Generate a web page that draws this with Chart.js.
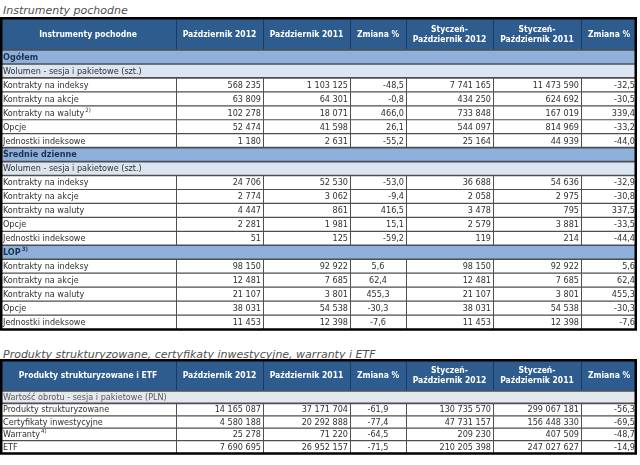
<!DOCTYPE html>
<html lang="pl">
<head>
<meta charset="utf-8">
<script src="https://cdn.jsdelivr.net/npm/chart.js@4.4.1/dist/chart.umd.min.js"></script>
<style>
  html, body { margin: 0; padding: 0; background: #fff; }
  body { width: 640px; height: 465px; position: relative; overflow: hidden; }
  .title { position: absolute; left: 3px; font: italic 11px "DejaVu Sans", sans-serif; color: #505050; white-space: nowrap; }
  .box { position: absolute; left: 0; width: 640px; }
</style>
</head>
<body>
<div class="title" style="top:4px">Instrumenty pochodne</div>
<div class="box" style="top:17px;height:316px"><canvas id="derivatives"></canvas></div>
<div class="title" style="top:348px">Produkty strukturyzowane, certyfikaty inwestycyjne, warranty i ETF</div>
<div class="box" style="top:359px;height:97px"><canvas id="products"></canvas></div>

<script>
// ---- data: table 1 (instrumenty pochodne)
const headers1 = ['Instrumenty pochodne', 'Październik 2012', 'Październik 2011', 'Zmiana %',
  'Styczeń-\nPaździernik 2012', 'Styczeń-\nPaździernik 2011', 'Zmiana %'];

const rows1 = [
  'Ogółem', 'Wolumen - sesja i pakietowe (szt.)',
  'Kontrakty na indeksy', 'Kontrakty na akcje', 'Kontrakty na waluty', 'Opcje', 'Jednostki indeksowe',
  'Średnie dzienne', 'Wolumen - sesja i pakietowe (szt.)',
  'Kontrakty na indeksy', 'Kontrakty na akcje', 'Kontrakty na waluty', 'Opcje', 'Jednostki indeksowe',
  'LOP',
  'Kontrakty na indeksy', 'Kontrakty na akcje', 'Kontrakty na waluty', 'Opcje', 'Jednostki indeksowe'
];
const kinds1 = ['section', 'sub', 'data', 'data', 'data', 'data', 'data',
  'section', 'sub', 'data', 'data', 'data', 'data', 'data',
  'section', 'data', 'data', 'data', 'data', 'data'];
const notes1 = [null, null, null, null, '2)', null, null, null, null, null, null, null, null, null,
  '3)', null, null, null, null, null];

const oct2012_1 = [null, null, 568235, 63809, 102278, 52474, 1180, null, null, 24706, 2774, 4447, 2281, 51,
  null, 98150, 12481, 21107, 38031, 11453];
const oct2011_1 = [null, null, 1103125, 64301, 18071, 41598, 2631, null, null, 52530, 3062, 861, 1981, 125,
  null, 92922, 7685, 3801, 54538, 12398];
const octChg_1 = [null, null, -48.5, -0.8, 466.0, 26.1, -55.2, null, null, -53.0, -9.4, 416.5, 15.1, -59.2,
  null, 5.6, 62.4, 455.3, -30.3, -7.6];
const ytd2012_1 = [null, null, 7741165, 434250, 733848, 544097, 25164, null, null, 36688, 2058, 3478, 2579, 119,
  null, 98150, 12481, 21107, 38031, 11453];
const ytd2011_1 = [null, null, 11473590, 624692, 167019, 814969, 44939, null, null, 54636, 2975, 795, 3881, 214,
  null, 92922, 7685, 3801, 54538, 12398];
const ytdChg_1 = [null, null, -32.5, -30.5, 339.4, -33.2, -44.0, null, null, -32.9, -30.8, 337.5, -33.5, -44.4,
  null, 5.6, 62.4, 455.3, -30.3, -7.6];

// ---- data: table 2 (produkty strukturyzowane i ETF)
const headers2 = ['Produkty strukturyzowane i ETF', 'Październik 2012', 'Październik 2011', 'Zmiana %',
  'Styczeń-\nPaździernik 2012', 'Styczeń-\nPaździernik 2011', 'Zmiana %'];
const rows2 = ['Wartość obrotu - sesja i pakietowe (PLN)', 'Produkty strukturyzowane',
  'Certyfikaty inwestycyjne', 'Warranty', 'ETF'];
const kinds2 = ['sub', 'data', 'data', 'data', 'data'];
const notes2 = [null, null, null, '4)', null];
const oct2012_2 = [null, 14165087, 4580188, 25278, 7690695];
const oct2011_2 = [null, 37171704, 20292888, 71220, 26952157];
const octChg_2 = [null, -61.9, -77.4, -64.5, -71.5];
const ytd2012_2 = [null, 130735570, 47731157, 209230, 210205398];
const ytd2011_2 = [null, 299067181, 156448330, 407509, 247027627];
const ytdChg_2 = [null, -56.3, -69.5, -48.7, -14.9];

// ---- layout / style
const colWidths = [176, 87, 87, 56, 87, 88, 56];
const colFormat = ['text', 'int', 'int', 'pct', 'int', 'int', 'pct'];
const FONT = '"DejaVu Sans Condensed", "DejaVu Sans", sans-serif';

function fmt(v, kind) {
  if (v === null || v === undefined) return '';
  if (kind === 'pct') return v.toFixed(1).replace('.', ',');
  return String(v).replace(/\B(?=(\d{3})+(?!\d))/g, ' ');
}

const tableGrid = {
  id: 'tableGrid',
  afterDraw(chart, args, opts) {
    const ctx = chart.ctx;
    const area = chart.chartArea;
    const yScale = chart.scales.y;
    const labels = chart.data.labels;
    const n = labels.length;
    const rowH = Math.abs(yScale.getPixelForValue(1) - yScale.getPixelForValue(0));
    const edges = [area.left];
    colWidths.forEach(w => edges.push(edges[edges.length - 1] + w));
    const L = edges[0], R = edges[edges.length - 1];
    const cols = [labels].concat(opts.columns);
    const bottom = yScale.getPixelForValue(n - 1) + rowH / 2;

    ctx.save();
    // header band
    ctx.fillStyle = '#2f5c8f';
    ctx.fillRect(L, 0, R - L, area.top);
    ctx.strokeStyle = '#1b3a62';
    ctx.lineWidth = 1;
    for (let c = 1; c < edges.length - 1; c++) {
      ctx.beginPath();
      ctx.moveTo(Math.round(edges[c]) + 0.5, 0);
      ctx.lineTo(Math.round(edges[c]) + 0.5, area.top);
      ctx.stroke();
    }
    ctx.fillStyle = '#ffffff';
    ctx.font = 'bold 8.5px ' + FONT;
    ctx.textAlign = 'center';
    ctx.textBaseline = 'middle';
    opts.headers.forEach((h, c) => {
      const lines = h.split('\n');
      const cx = (edges[c] + edges[c + 1]) / 2;
      const cy = area.top / 2 + 1;
      lines.forEach((t, k) => {
        ctx.fillText(t, cx, cy + (k - (lines.length - 1) / 2) * 10);
      });
    });

    // rows
    for (let i = 0; i < n; i++) {
      const cy = yScale.getPixelForValue(i);
      const y0 = cy - rowH / 2;
      const kind = opts.kinds[i];
      ctx.fillStyle = kind === 'section' ? '#8eb0da' : kind === 'sub' ? opts.subFill : '#ffffff';
      ctx.fillRect(L, y0, R - L, rowH);

      // label
      ctx.textAlign = 'left';
      ctx.textBaseline = 'middle';
      if (kind === 'section') {
        ctx.font = 'bold 9px ' + FONT;
        ctx.fillStyle = '#1c3253';
      } else {
        ctx.font = '9px ' + FONT;
        ctx.fillStyle = kind === 'sub' ? opts.subText : '#303030';
      }
      ctx.fillText(labels[i], L + 3, cy + 0.5);
      if (opts.notes[i]) {
        const w = ctx.measureText(labels[i]).width;
        ctx.font = (kind === 'section' ? 'bold ' : '') + '6px ' + FONT;
        ctx.fillText(opts.notes[i], L + 3 + w + 1, cy - 2.5);
      }

      // values
      if (kind === 'data') {
        ctx.font = '9px ' + FONT;
        ctx.fillStyle = '#303030';
        for (let c = 1; c < cols.length; c++) {
          const txt = fmt(cols[c][i], colFormat[c]);
          if (c === 3 && opts.centerChange(i)) {
            ctx.textAlign = 'center';
            ctx.fillText(txt, (edges[c] + edges[c + 1]) / 2, cy + 0.5);
          } else {
            ctx.textAlign = 'right';
            ctx.fillText(txt, edges[c + 1] - 2, cy + 0.5);
          }
        }
        // vertical cell borders
        ctx.strokeStyle = '#505050';
        ctx.lineWidth = 1;
        for (let c = 1; c < edges.length - 1; c++) {
          ctx.beginPath();
          ctx.moveTo(Math.round(edges[c]) + 0.5, y0);
          ctx.lineTo(Math.round(edges[c]) + 0.5, y0 + rowH);
          ctx.stroke();
        }
      }
    }

    // horizontal row borders
    ctx.strokeStyle = '#4e4e4e';
    for (let i = 0; i < n; i++) {
      const yb = yScale.getPixelForValue(i) - rowH / 2;
      ctx.lineWidth = (opts.kinds[i] !== 'data' || (i > 0 && opts.kinds[i - 1] !== 'data')) ? 1.6 : 1.2;
      ctx.beginPath();
      ctx.moveTo(L, yb);
      ctx.lineTo(R, yb);
      ctx.stroke();
    }

    // outer border
    ctx.strokeStyle = '#000000';
    ctx.lineWidth = 2.5;
    ctx.strokeRect(L + 1.25, 1.25, R - L - 2.5, bottom - 1.25 + 0.5);
    ctx.restore();
  }
};

function makeTable(id, headers, labels, kinds, notes, columns, extra) {
  return new Chart(document.getElementById(id), {
    type: 'bar',
    data: { labels: labels, datasets: [] },
    options: {
      indexAxis: 'y',
      responsive: true,
      maintainAspectRatio: false,
      animation: false,
      events: [],
      layout: { padding: extra.padding },
      scales: {
        y: { type: 'category', display: false, offset: true, ticks: { autoSkip: false } },
        x: { type: 'linear', display: false }
      },
      plugins: {
        legend: { display: false },
        tooltip: { enabled: false },
        tableGrid: Object.assign({ headers, kinds, notes, columns }, extra)
      }
    },
    plugins: [tableGrid]
  });
}

makeTable('derivatives', headers1, rows1, kinds1, notes1,
  [oct2012_1, oct2011_1, octChg_1, ytd2012_1, ytd2011_1, ytdChg_1],
  { padding: { top: 33, bottom: 4, left: 0, right: 0 }, subFill: '#dce6f2', subText: '#303030',
    centerChange: i => i > 14 });

makeTable('products', headers2, rows2, kinds2, notes2,
  [oct2012_2, oct2011_2, octChg_2, ytd2012_2, ytd2011_2, ytdChg_2],
  { padding: { top: 32, bottom: 3, left: 0, right: 0 }, subFill: '#e3e8ef', subText: '#5a5a5a',
    centerChange: i => true });
</script>
</body>
</html>
